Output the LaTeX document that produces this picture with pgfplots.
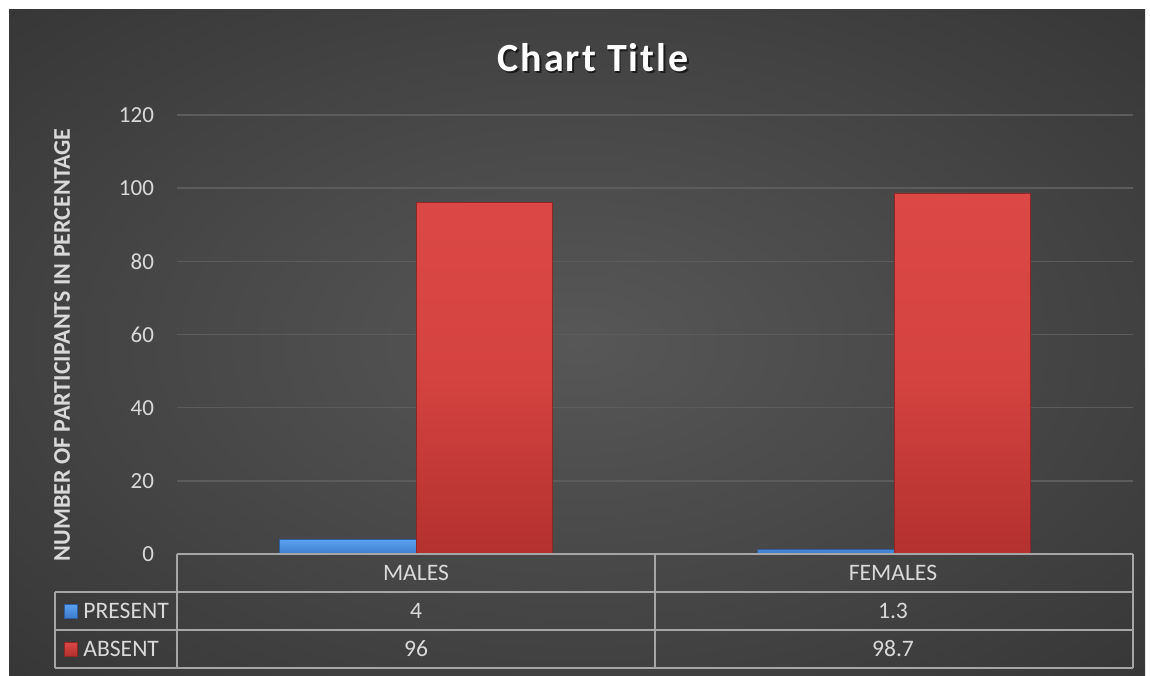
\documentclass[border=0pt]{standalone}
\usepackage{pgfplots}
\pgfplotsset{compat=1.18}
\usepackage{fontspec}
\setmainfont{Carlito}
\newfontfamily\titlefont[LetterSpace=5]{Carlito}
\definecolor{txt}{HTML}{D9D9D9}
\definecolor{gridc}{HTML}{5C5C5C}
\definecolor{tabline}{HTML}{A6A6A6}
\definecolor{redT}{HTML}{DB4845}
\definecolor{redM}{HTML}{D54340}
\definecolor{redB}{HTML}{B3312F}
\definecolor{redE}{HTML}{8E2624}
\definecolor{blueT}{HTML}{5AA3F2}
\definecolor{blueB}{HTML}{3D7CCB}
\definecolor{blueE}{HTML}{2E5E9E}
\definecolor{bgA}{HTML}{575757}
\definecolor{bgB}{HTML}{474747}
\definecolor{bgC}{HTML}{2E2E2E}
\definecolor{bgD}{HTML}{242424}
\pgfdeclareradialshading{bgshade}{\pgfpoint{0bp}{0bp}}{color(0bp)=(bgA); color(18bp)=(bgB); color(45bp)=(bgC); color(72bp)=(bgD)}
\begin{document}
\begin{tikzpicture}
\useasboundingbox (0,0) rectangle (575pt,337.5pt);
\fill[white] (0,0) rectangle (575pt,337.5pt);
\shade[shading=bgshade] (4.5pt,0pt) rectangle (572.5pt,332.5pt);
\begin{axis}[
 at={(88.5pt,60.5pt)}, anchor=south west,
 scale only axis, width=478pt, height=219.5pt,
 xmin=-0.5, xmax=1.5, ymin=0, ymax=120,
 xtick=\empty, ytick={0,20,...,120},
 ymajorgrids, grid style={gridc, line width=0.75pt},
 axis line style={draw=none}, major tick length=0pt,
 tick label style={font=\fontsize{11.5}{13}\selectfont, text=txt},
 yticklabel style={xshift=-8pt},
 /pgf/number format/assume math mode=true,
 clip=false,
]
\addplot[ybar, bar width=0.285, bar shift=-0.1425, draw=blueE, line width=0.4pt, top color=blueT, bottom color=blueB] coordinates {(0,4) (1,1.3)};
\addplot[ybar, bar width=0.285, bar shift=0.1425, draw=redE, line width=0.4pt, top color=redT, bottom color=redB, middle color=redM] coordinates {(0,96) (1,98.7)};
\end{axis}
\begin{scope}[x=1pt,y=1pt]
\begin{scope}[tabline, line width=0.75pt]
\draw (88.5,60.5) -- (566.5,60.5);
\draw (27.5,41.5) -- (566.5,41.5);
\draw (27.5,22.5) -- (566.5,22.5);
\draw (27.5,3.5) -- (566.5,3.5);
\draw (88.5,60.5) -- (88.5,3.5);
\draw (327.5,60.5) -- (327.5,3.5);
\draw (566.5,60.5) -- (566.5,3.5);
\draw (27.5,41.5) -- (27.5,3.5);
\end{scope}
\begin{scope}[every node/.style={text=txt, font=\fontsize{11.8}{13}\selectfont, inner sep=0pt}]
\node at (208,51) {MALES};
\node at (446.5,51) {FEMALES};
\node at (208,32) {4};
\node at (446.5,32) {1.3};
\node at (208,13) {96};
\node at (446.5,13) {98.7};
\node[anchor=west] at (41.5,32) {PRESENT};
\node[anchor=west] at (41.5,13) {ABSENT};
\end{scope}
\fill[top color=blueT, bottom color=blueB, draw=blueE, line width=0.3pt] (32,28.5) rectangle (38.5,35.5);
\fill[top color=redT, bottom color=redB, draw=redE, line width=0.3pt] (32,9.5) rectangle (38.5,16.5);
\node[text=black, opacity=0.6, font=\titlefont\bfseries\fontsize{20}{24}\selectfont] at (297.3,307.7) {Chart Title};
\node[text=white, font=\titlefont\bfseries\fontsize{20}{24}\selectfont] at (296.5,308.5) {Chart Title};
\node[rotate=90, text=txt, font=\bfseries\fontsize{12}{14}\selectfont] at (31,165) {NUMBER OF PARTICIPANTS IN PERCENTAGE};
\end{scope}
\end{tikzpicture}
\end{document}
